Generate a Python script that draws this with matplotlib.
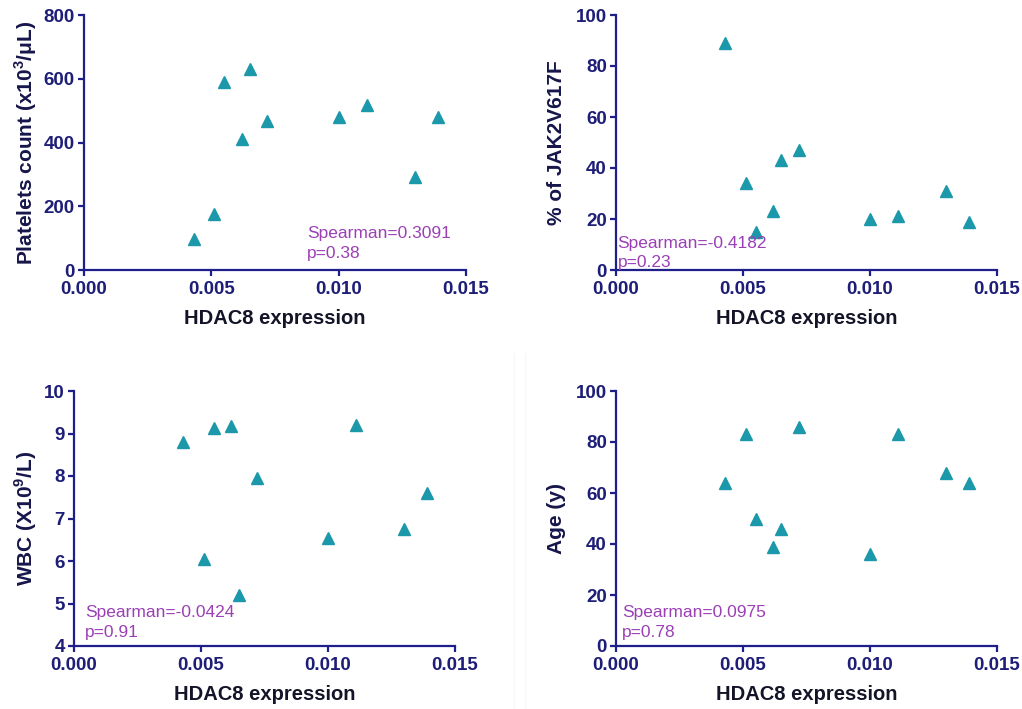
import matplotlib
matplotlib.use('Agg')
import matplotlib.pyplot as plt
from matplotlib.lines import Line2D

plt.rcParams['font.family'] = ['Liberation Sans', 'DejaVu Sans']
plt.rcParams['mathtext.fontset'] = 'custom'
plt.rcParams['mathtext.rm'] = 'Liberation Sans'
plt.rcParams['mathtext.bf'] = 'Liberation Sans:bold'

# HDAC8 expression, same patients in every panel
hdac8 = [0.0043, 0.0051, 0.0055, 0.0062, 0.0065, 0.0072, 0.0100, 0.0111, 0.0130, 0.0139]

platelets = [96, 177, 591, 412, 630, 468, 479, 518, 291, 479]
jak2 = [89, 34, 15, 23, 43, 47, 20, 21, 31, 19]
wbc = [8.79, 6.05, 9.14, 9.18, 5.19, 7.95, 6.55, 9.21, 6.75, 7.59]
age = [64, 83, 50, 39, 46, 86, 36, 83, 68, 64]

y_labels = [r'Platelets count (x10$^{\mathbf{3}}$/μL)', '% of JAK2V617F',
            r'WBC (X10$^{\mathbf{9}}$/L)', 'Age (y)']
y_ticks = [[0, 200, 400, 600, 800], [0, 20, 40, 60, 80, 100],
           [4, 5, 6, 7, 8, 9, 10], [0, 20, 40, 60, 80, 100]]
x_ticks = [0.000, 0.005, 0.010, 0.015]
notes = ['Spearman=0.3091\np=0.38', 'Spearman=-0.4182\np=0.23',
         'Spearman=-0.0424\np=0.91', 'Spearman=0.0975\np=0.78']

W, H = 1022, 709
fig = plt.figure(figsize=(W / 100, H / 100), dpi=100)

# axes boxes in pixels: left, top, width, height
boxes = [(84, 15, 382, 255), (616, 15, 381, 255), (74, 391, 381, 255), (616, 391, 381, 255)]
label_x = [26, 557, 26, 557]
note_pos = [(0.584, 0.105), (0.004, 0.067), (0.029, 0.093), (0.016, 0.093)]

axis_col = '#1f1f8c'
tick_col = '#1e1e78'
pt_col = '#1b98aa'
note_col = '#9b3fb5'

for i, vals in enumerate([platelets, jak2, wbc, age]):
    l, t, w, h = boxes[i]
    ax = fig.add_axes([l / W, 1 - (t + h) / H, w / W, h / H])
    ax.plot(hdac8, vals, linestyle='none', marker='^', markersize=9, color=pt_col,
            clip_on=False)
    ax.set_xlim(0, 0.015)
    ax.set_ylim(y_ticks[i][0], y_ticks[i][-1])
    ax.set_xticks(x_ticks)
    ax.set_xticklabels([f'{v:.3f}' for v in x_ticks])
    ax.set_yticks(y_ticks[i])
    for s in ['top', 'right']:
        ax.spines[s].set_visible(False)
    for s in ['left', 'bottom']:
        ax.spines[s].set_color(axis_col)
        ax.spines[s].set_linewidth(1.6)
    ax.tick_params(axis='both', colors=axis_col, width=1.6, length=4, direction='out',
                   labelsize=13.5, labelcolor=tick_col)
    ax.tick_params(axis='x', pad=4)
    ax.tick_params(axis='y', pad=2.5)
    for lab in ax.get_xticklabels() + ax.get_yticklabels():
        lab.set_fontweight('bold')
    ax.set_xlabel('HDAC8 expression', fontsize=14.5, fontweight='bold', color='#141428')
    ax.xaxis.set_label_coords(0.5, -48 / h)
    ax.xaxis.label.set_verticalalignment('center')
    ax.set_ylabel(y_labels[i], fontsize=15, fontweight='bold', color='#16164a')
    ax.yaxis.label.set_verticalalignment('center')
    ax.yaxis.set_label_coords((label_x[i] - l) / w, 0.5)
    ax.text(note_pos[i][0], note_pos[i][1], notes[i], transform=ax.transAxes,
            fontsize=12.5, color=note_col, ha='left', va='center', linespacing=1.4)

# faint divider lines from the source image
for xp in [514, 525]:
    fig.add_artist(Line2D([xp / W, xp / W], [0, 1 - 354 / H], color='#f7f7f7', linewidth=0.8))

fig.savefig('out.png', dpi=100, facecolor='white')
